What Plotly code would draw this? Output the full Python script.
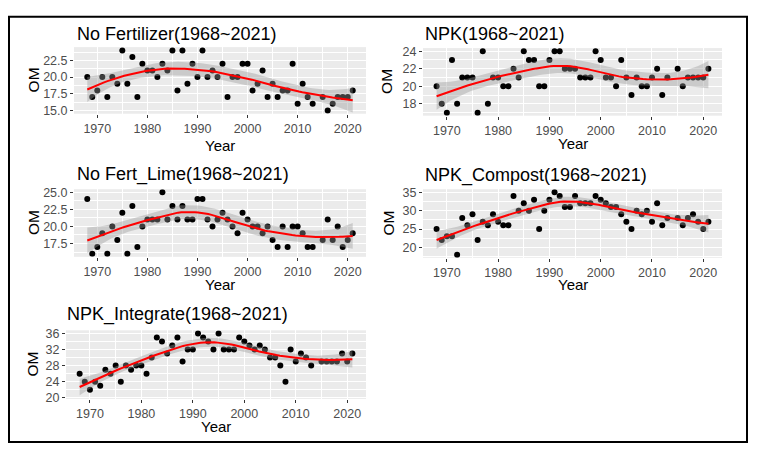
import numpy as np
import plotly.graph_objects as go

# ---------------- data ----------------
YEARS = list(range(1968, 2014)) + list(range(2015, 2022))

OM_NO_FERT = [20, 17, 18, 20, 17, 20, 19, 24, 19, 23, 17, 22, 21, 21, 20, 22, 21, 24, 18, 24,
              19, 22, 20, 24, 20, 21, 20, 22, 17, 20, 20, 22, 22, 18, 19, 21, 17, 19, 17, 18,
              18, 22, 16, 19, 17, 16,
              17, 15, 16, 17, 17, 17, 18]
OM_NPK = [20, 18, 17, 23, 18, 21, 21, 21, 17, 24, 18, 21, 21, 20, 20, 22, 21, 24, 23, 23,
          20, 20, 23, 24, 24, 22, 22, 22, 21, 21, 21, 24, 23, 21, 21, 20, 23, 21, 19, 21,
          20, 20, 21, 22, 19, 21,
          22, 20, 21, 21, 21, 21, 22]
OM_NOFERT_LIME = [24, 16, 17, 19, 16, 20, 18, 22, 16, 23, 17, 20, 21, 21, 21, 25, 21, 23, 21, 23,
                  21, 21, 24, 24, 21, 20, 21, 22, 21, 20, 19, 22, 21, 20, 20, 19, 20, 18, 17, 20,
                  17, 20, 20, 19, 17, 17,
                  18, 21, 18, 20, 17, 18, 19]
OM_NPK_COMPOST = [25, 22, 23, 23, 18, 28, 26, 29, 22, 27, 26, 29, 27, 26, 26, 34, 30, 32, 30, 33,
                  25, 30, 33, 35, 34, 31, 31, 34, 32, 32, 32, 34, 33, 32, 31, 31, 29, 27, 25, 30,
                  29, 30, 27, 32, 26, 28,
                  28, 26, 28, 29, 27, 25, 27]
OM_NPK_INTEGRATE = [26, 24, 22, 24, 23, 27, 26, 28, 24, 28, 27, 28, 28, 26, 30, 35, 34, 31, 33, 35,
                    29, 32, 32, 36, 35, 34, 32, 36, 32, 32, 32, 35, 34, 33, 32, 33, 32, 30, 30, 28,
                    24, 32, 29, 31, 30, 28,
                    29, 29, 29, 29, 31, 29, 31]

PANEL_TITLES = ["No Fertilizer(1968~2021)", "NPK(1968~2021)", "No Fert_Lime(1968~2021)",
                "NPK_Compost(1968~2021)", "NPK_Integrate(1968~2021)"]
SERIES = [OM_NO_FERT, OM_NPK, OM_NOFERT_LIME, OM_NPK_COMPOST, OM_NPK_INTEGRATE]
X_TICKS = [1970, 1980, 1990, 2000, 2010, 2020]
Y_TICKS = [[15.0, 17.5, 20.0, 22.5], [18, 20, 22, 24], [17.5, 20.0, 22.5, 25.0],
           [20, 25, 30, 35], [20, 24, 28, 32, 36]]
Y_TICK_TEXT = [["15.0", "17.5", "20.0", "22.5"], ["18", "20", "22", "24"],
               ["17.5", "20.0", "22.5", "25.0"], ["20", "25", "30", "35"],
               ["20", "24", "28", "32", "36"]]
X_TITLE = "Year"
Y_TITLE = "OM"

# ---------------- layout (pixels) ----------------
W, H = 760, 450
# (x0, x1, ytop, ybottom) in pixels for each panel's plotting area
PANEL_BOX = [(74, 366, 45, 113), (423, 722, 46, 115), (74, 366, 190, 259),
             (423, 722, 190, 260), (66, 366, 334, 404)]
Y_RANGE = [[14.5, 24.5], [16.65, 24.35], [15.55, 25.45], [17.15, 35.85], [19.7, 36.8]]
Y_MINOR = [1.25, 1.0, 1.25, 2.5, 2.0]
TITLE_POS = [(75, 32), (423, 32), (75, 175), (423, 176), (65, 318)]
XTITLE_Y = [145, 143, 287, 287, 432]
YTITLE_X = [33, 387, 33, 388, 33]

FONT = "Liberation Sans, Arial, sans-serif"


def px(x):
    return x / W


def py(y):
    return 1 - y / H


def t975(df):
    z = 1.959963985
    return (z + (z ** 3 + z) / (4 * df) + (5 * z ** 5 + 16 * z ** 3 + 3 * z) / (96 * df ** 2)
            + (3 * z ** 7 + 19 * z ** 5 + 17 * z ** 3 - 15 * z) / (384 * df ** 3))


def loess(x, y, xs, span=0.75):
    x = np.asarray(x, float)
    y = np.asarray(y, float)
    n = len(x)
    q = int(np.floor(n * span))

    def row(x0):
        d = np.abs(x - x0)
        h = np.sort(d)[q - 1] * 1.0000001
        u = d / h
        w = np.where(u < 1, (1 - u ** 3) ** 3, 0.0)
        X = np.column_stack([np.ones(n), x - x0, (x - x0) ** 2])
        XtW = X.T * w
        return np.linalg.solve(XtW @ X, XtW)[0]

    L = np.array([row(v) for v in x])
    res = y - L @ y
    IL = np.eye(n) - L
    M = IL.T @ IL
    d1 = np.trace(M)
    d2 = np.trace(M @ M)
    sigma = np.sqrt(np.sum(res ** 2) / d1)
    df = d1 ** 2 / d2
    Ls = np.array([row(v) for v in xs])
    fit = Ls @ y
    se = sigma * np.sqrt((Ls ** 2).sum(axis=1))
    t = t975(df)
    return fit, fit - t * se, fit + t * se


fig = go.Figure()
annotations = []

for i, (vals, title) in enumerate(zip(SERIES, PANEL_TITLES)):
    k = "" if i == 0 else str(i + 1)
    xa, ya = "x" + k, "y" + k
    xs = np.linspace(min(YEARS), max(YEARS), 80)
    fit, lo, hi = loess(YEARS, vals, xs)

    fig.add_trace(go.Scatter(x=YEARS, y=vals, xaxis=xa, yaxis=ya, mode="markers",
                             marker=dict(color="black", size=6), showlegend=False,
                             hoverinfo="x+y"))
    fig.add_trace(go.Scatter(x=np.concatenate([xs, xs[::-1]]),
                             y=np.concatenate([hi, lo[::-1]]),
                             xaxis=xa, yaxis=ya, mode="lines", fill="toself",
                             fillcolor="rgba(153,153,153,0.4)", line=dict(width=0),
                             showlegend=False, hoverinfo="skip"))
    fig.add_trace(go.Scatter(x=xs, y=fit, xaxis=xa, yaxis=ya, mode="lines",
                             line=dict(color="red", width=2), showlegend=False,
                             hoverinfo="skip"))

    x0, x1, yt, yb = PANEL_BOX[i]
    axis_common = dict(ticks="outside", ticklen=3, tickwidth=1, tickcolor="#333333",
                       tickfont=dict(family=FONT, size=12.5, color="#4D4D4D"),
                       showgrid=True, gridcolor="white", gridwidth=1.1,
                       zeroline=False, showline=False, fixedrange=True)
    fig.layout["xaxis" + k] = dict(
        domain=[px(x0), px(x1)], range=[1965.35, 2023.65], anchor=ya,
        tickmode="array", tickvals=X_TICKS, ticktext=[str(v) for v in X_TICKS],
        minor=dict(tick0=1965, dtick=5, showgrid=True, gridcolor="white", gridwidth=0.5),
        **axis_common)
    fig.layout["yaxis" + k] = dict(
        domain=[py(yb), py(yt)], range=Y_RANGE[i], anchor=xa,
        tickmode="array", tickvals=Y_TICKS[i], ticktext=Y_TICK_TEXT[i],
        minor=dict(tick0=Y_TICKS[i][0], dtick=Y_MINOR[i], showgrid=True,
                   gridcolor="white", gridwidth=0.5),
        **axis_common)

    tx, ty = TITLE_POS[i]
    annotations.append(dict(text=title, x=px(tx), y=py(ty), xref="paper", yref="paper",
                            xanchor="left", yanchor="middle", showarrow=False,
                            font=dict(family=FONT, size=18, color="black")))
    annotations.append(dict(text=X_TITLE, x=px((x0 + x1) / 2), y=py(XTITLE_Y[i]),
                            xref="paper", yref="paper", xanchor="center", yanchor="middle",
                            showarrow=False, font=dict(family=FONT, size=15, color="black")))
    annotations.append(dict(text=Y_TITLE, x=px(YTITLE_X[i]), y=py((yt + yb) / 2),
                            xref="paper", yref="paper", xanchor="center", yanchor="middle",
                            textangle=-90, showarrow=False,
                            font=dict(family=FONT, size=15.5, color="black")))

fig.update_layout(
    width=W, height=H, autosize=False,
    margin=dict(l=0, r=0, t=0, b=0),
    paper_bgcolor="white", plot_bgcolor="#EBEBEB",
    annotations=annotations,
    shapes=[dict(type="rect", xref="paper", yref="paper",
                 x0=px(9), x1=px(747), y0=py(448), y1=py(14),
                 line=dict(color="black", width=2))],
    showlegend=False,
)

fig.write_html("out.html", config={"displayModeBar": False},
               post_script="document.body.style.margin='0';document.body.style.overflow='hidden';")
